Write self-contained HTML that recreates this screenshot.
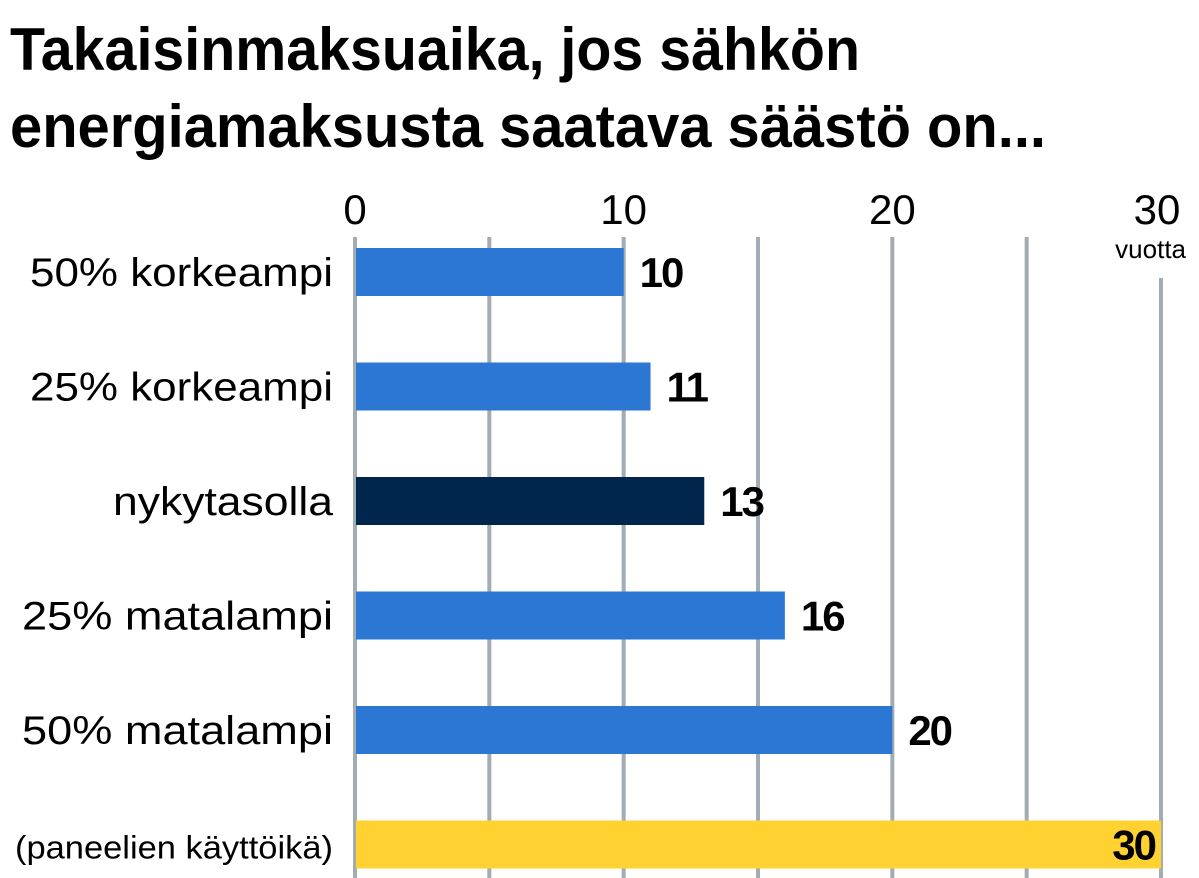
<!DOCTYPE html>
<html><head><meta charset="utf-8"><style>
body{margin:0;background:#fff;}
svg{display:block;font-family:"Liberation Sans",sans-serif;}
</style></head><body>
<svg id="chart" width="1199" height="878" viewBox="0 0 1199 878">
<g>
<text x="10" y="70" font-size="60" font-weight="bold" fill="#000" textLength="850" lengthAdjust="spacingAndGlyphs">Takaisinmaksuaika, jos sähkön</text>
<text x="10" y="147" font-size="60" font-weight="bold" fill="#000" textLength="1036" lengthAdjust="spacingAndGlyphs">energiamaksusta saatava säästö on...</text>
</g>
<g id="grid"></g>
<g id="ticks"></g>
<text x="1186" y="258" font-size="26" text-anchor="end" fill="#000">vuotta</text>
<g id="bars"></g>
</svg>
<script>
const categories=["50% korkeampi","25% korkeampi","nykytasolla","25% matalampi","50% matalampi","(paneelien käyttöikä)"];
const values=[10,11,13,16,20,30];
const colors=["#2b77d3","#2b77d3","#00264d","#2b77d3","#2b77d3","#ffd231"];
const tickValues=[0,5,10,15,20,25,30];
const tickLabels=["0","","10","","20","","30"];
const labelWidths=[303,303,220,311,311,318];
const NS="http://www.w3.org/2000/svg";
const x=v=>355+v*(1161-355)/30;
const yTop=i=>248+i*114.5;
function mk(t,a,p){const e=document.createElementNS(NS,t);for(const k in a)e.setAttribute(k,a[k]);p.appendChild(e);return e;}
const grid=document.getElementById('grid'),ticks=document.getElementById('ticks'),bars=document.getElementById('bars');
tickValues.forEach((v,i)=>{
  const l=mk('line',{x1:x(v),x2:x(v),y1:v===30?278:237,y2:878,stroke:"#a3abb3","stroke-width":4},grid);
  
  
  if(tickLabels[i]){
    const t=mk('text',{x:v===30?x(v)-4:x(v),y:224,"font-size":42,"text-anchor":"middle",fill:"#000"},ticks);
    t.textContent=tickLabels[i];
    
    
  }
});
categories.forEach((c,i)=>{
  const y=yTop(i),h=48;
  const fs=i===5?32:40;
  const lab=mk('text',{x:333,y:y+h/2+14,"font-size":fs,"text-anchor":"end",fill:"#000",textLength:labelWidths[i],lengthAdjust:"spacingAndGlyphs"},bars);
  lab.textContent=c;
  
  
  const r=mk('rect',{x:x(0)+1,y:y,width:x(values[i])-x(0)-1,height:h,fill:colors[i]},bars);
  
  
  const inside=values[i]>=28;
  const vt=mk('text',{x:inside?x(values[i])-6:x(values[i])+16,y:y+h/2+15,"font-size":42,"font-weight":"bold","text-anchor":inside?"end":"start",fill:"#000","letter-spacing":"-2"},bars);
  vt.textContent=values[i];
  
  
});
</script>
</body></html>
